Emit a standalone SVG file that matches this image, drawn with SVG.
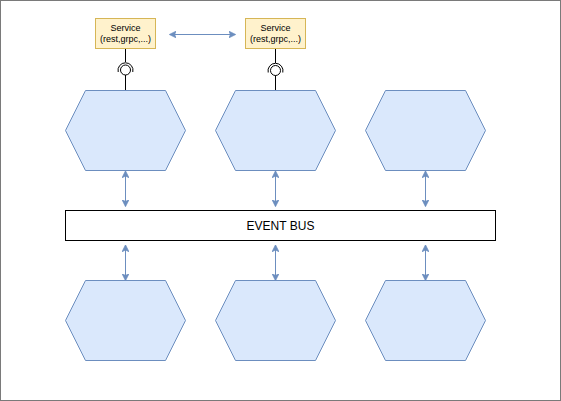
<svg xmlns="http://www.w3.org/2000/svg" width="561" height="401" viewBox="0 0 561 401">
<style>
.hex{fill:#dae8fc;stroke:#6c8ebf;stroke-width:1}
.svc{fill:#fff2cc;stroke:#d6b656;stroke-width:1}
.conn{stroke:#6c8ebf;stroke-width:1;fill:none}
.blk{stroke:#000;stroke-width:1;fill:none}
.t9{font-family:"Liberation Sans",Arial,sans-serif;font-size:9px;fill:#000;text-anchor:middle}
.t12{font-family:"Liberation Sans",Arial,sans-serif;font-size:12px;fill:#000;text-anchor:middle}
</style>
<defs>
<marker id="ah" viewBox="0 0 10 10" refX="9" refY="5" markerWidth="7" markerHeight="7" markerUnits="userSpaceOnUse" orient="auto-start-reverse">
<path d="M0,0 L10,5 L0,10 L2.5,5 Z" fill="#6c8ebf" stroke="#6c8ebf" stroke-width="1"/>
</marker>
<polygon id="hx" points="20,0 100,0 120,40 100,80 20,80 0,40"/>
</defs>
<rect x="0.5" y="0.5" width="560" height="400" fill="#fff" stroke="#7a7a7a" stroke-width="1"/>
<g id="connectors">
<line class="conn" x1="170" y1="34.5" x2="235" y2="34.5" marker-start="url(#ah)" marker-end="url(#ah)"/>
<line class="conn" x1="125.5" y1="171.5" x2="125.5" y2="206" marker-start="url(#ah)" marker-end="url(#ah)"/>
<line class="conn" x1="275.5" y1="171.5" x2="275.5" y2="206" marker-start="url(#ah)" marker-end="url(#ah)"/>
<line class="conn" x1="425.5" y1="171.5" x2="425.5" y2="206" marker-start="url(#ah)" marker-end="url(#ah)"/>
<line class="conn" x1="125.5" y1="245.5" x2="125.5" y2="280" marker-start="url(#ah)" marker-end="url(#ah)"/>
<line class="conn" x1="275.5" y1="245.5" x2="275.5" y2="280" marker-start="url(#ah)" marker-end="url(#ah)"/>
<line class="conn" x1="425.5" y1="245.5" x2="425.5" y2="280" marker-start="url(#ah)" marker-end="url(#ah)"/>
<g id="lollipop1">
<line class="blk" x1="125.5" y1="48.5" x2="125.5" y2="62"/>
<path class="blk" d="M118.2,72 A7.5,7.5 0 1 1 132.8,72"/>
<circle class="blk" cx="125.5" cy="70" r="5" fill="#fff"/>
<line class="blk" x1="125.5" y1="75" x2="125.5" y2="90.5"/>
</g>
<g id="lollipop2">
<line class="blk" x1="275.5" y1="48.5" x2="275.5" y2="63"/>
<path class="blk" d="M268.2,72.5 A7.5,7.5 0 1 1 282.8,72.5"/>
<circle class="blk" cx="275.5" cy="70.5" r="5" fill="#fff"/>
<line class="blk" x1="275.5" y1="75.5" x2="275.5" y2="90.5"/>
</g>
</g>
<g id="svc1">
<rect class="svc" x="95.5" y="18.5" width="60" height="30"/>
<text class="t9" x="125.5" y="31">Service</text>
<text class="t9" x="125.5" y="42">(rest,grpc,...)</text>
</g>
<g id="svc2">
<rect class="svc" x="245.5" y="18.5" width="60" height="30"/>
<text class="t9" x="275.5" y="31">Service</text>
<text class="t9" x="275.5" y="42">(rest,grpc,...)</text>
</g>
<g id="hex1"><use href="#hx" class="hex" x="65.5" y="90.5"/></g>
<g id="hex2"><use href="#hx" class="hex" x="215.5" y="90.5"/></g>
<g id="hex3"><use href="#hx" class="hex" x="365.5" y="90.5"/></g>
<g id="bus">
<rect x="65.5" y="210.5" width="430" height="30" fill="#fff" stroke="#000" stroke-width="1"/>
<text class="t12" x="280.5" y="229.5">EVENT BUS</text>
</g>
<g id="hex4"><use href="#hx" class="hex" x="65.5" y="280.5"/></g>
<g id="hex5"><use href="#hx" class="hex" x="215.5" y="280.5"/></g>
<g id="hex6"><use href="#hx" class="hex" x="365.5" y="280.5"/></g>
</svg>
